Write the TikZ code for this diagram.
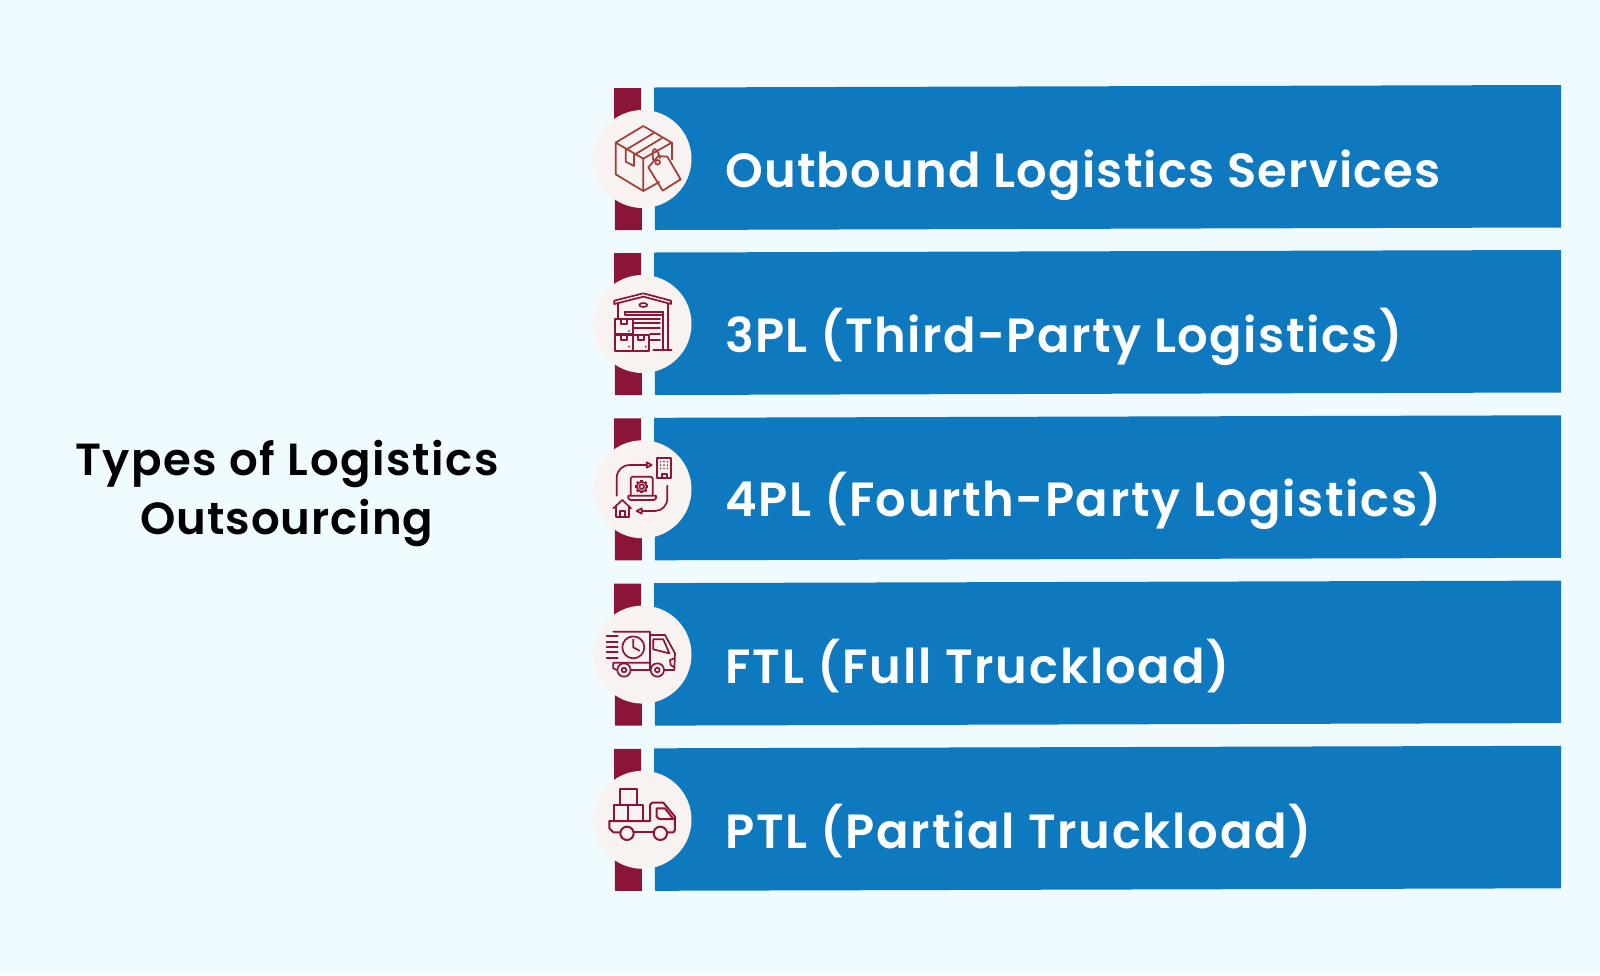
\documentclass[tikz,border=0pt]{standalone}
\usepackage{fontspec}
\setmainfont{Poppins}
\newfontfamily\labfont{Poppins SemiBold}[LetterSpace=2.5]
\newfontfamily\titfont{Poppins SemiBold}[LetterSpace=2]
\definecolor{bgc}{HTML}{F0FBFF}
\definecolor{bluec}{HTML}{0F79BF}
\definecolor{marc}{HTML}{8A1538}
\definecolor{circc}{HTML}{F8F2F1}
\definecolor{rust}{HTML}{A23A36}
\tikzset{
 x=1pt,y=-1pt,
 barblue/.style={fill=bluec,draw=none},
 barmar/.style={fill=marc,draw=none},
 disc/.style={circle,fill=circc,draw=none,minimum size=98pt,inner sep=0pt},
 label/.style={anchor=base west,text=white,font=\labfont\fontsize{48}{48}\selectfont,inner sep=0pt},
 title/.style={anchor=base,text=black,font=\titfont\fontsize{45}{45}\selectfont,inner sep=0pt},
 icon/.style={x=.3333pt,y=-.3333pt,draw=marc,line width=1.7pt,line join=round,line cap=round},
}
\newcommand{\rowbars}[2]{% y offset, name
 \fill[barmar] (614,88+#1) -- (641,88+#1) -- (642,230+#1) -- (615,230+#1) -- cycle;
 \fill[barblue] (654,87.5+#1) -- (1561,85+#1) -- (1561,227.5+#1) -- (655,230+#1) -- cycle;
 \node[disc] (#2) at (642.5,159+#1) {};
}
\begin{document}
\begin{tikzpicture}
\useasboundingbox (0,0) rectangle (1600,975);
\fill[bgc] (0,0) rectangle (1600,975);
\rowbars{0}{c1}
\rowbars{165}{c2}
\rowbars{330.3}{c3}
\rowbars{495.6}{c4}
\rowbars{660.8}{c5}
\node[title] (t1) at (287,475) {\addfontfeature{LetterSpace=3.5}Types of Logistics};
\node[title] (t2) at (287,534) {Outsourcing};
\node[label] (l1) at (725,187) {Outbound Logistics Services};
\node[label] (l2) at (725,352) {\addfontfeature{LetterSpace=3}3PL (Third-Party Logistics)};
\node[label] (l3) at (725,516) {\addfontfeature{LetterSpace=3.2}4PL (Fourth-Party Logistics)};
\node[label] (l4) at (725,683) {\addfontfeature{LetterSpace=3.85}FTL (Full Truckload)};
\node[label] (l5) at (725,848) {\addfontfeature{LetterSpace=3.6}PTL (Partial Truckload)};
% icon 1
\begin{scope}[shift={(580,80)},icon,draw=rust]
\draw (107,188) -- (190,138) -- (275,188) -- (190,236) -- cycle;
\draw (107,188) -- (107,283) -- (190,333) -- (190,236);
\draw (275,188) -- (275,238);
\draw (190,333) -- (238,306);
\draw (137,210) -- (220,160);
\draw (162,225) -- (245,175);
\draw (137,210) -- (137,245) -- (162,258) -- (162,225);
\draw (205,262) -- (235,228) -- (262,230) -- (302,298) -- (248,332) -- cycle;
\draw (233,247) circle[radius=7];
\draw (220,240) .. controls (212,205) and (228,190) .. (240,235);
\end{scope}
% icon 2
\begin{scope}[shift={(580,260)},icon]
\draw (103,122) -- (190,100) -- (273,122) -- (273,132) -- (190,110) -- (103,132) -- cycle;
\draw (113,132) -- (113,175);
\draw (263,132) -- (263,270);
\draw (248,155) -- (248,270);
\draw (220,270) -- (275,270);
\draw (135,155) -- (248,155) (135,165) -- (248,165) (135,155) -- (135,165);
\draw (160,178) -- (240,178) (160,190) -- (240,190) (160,205) -- (240,205) (210,222) -- (240,222) (210,240) -- (240,240);
\draw (190,135) ellipse[x radius=12,y radius=6];
\draw (105,178) rectangle (158,222);
\draw (105,225) rectangle (158,272);
\draw (158,225) rectangle (208,272);
\draw (122,178) -- (122,193) -- (140,193) -- (140,178);
\draw (122,225) -- (122,240) -- (140,240) -- (140,225);
\draw (175,225) -- (175,240) -- (192,240) -- (192,225);
\fill[marc] (147,213) circle[radius=3] (147,260) circle[radius=3] (197,260) circle[radius=3];
\end{scope}
% icon 3
\begin{scope}[shift={(580,425)},icon]
\draw (110,212) -- (110,160) .. controls (110,135) and (128,120) .. (150,120) -- (200,120);
\draw (200,112) -- (215,120) -- (200,128) -- cycle;
\draw (232,100) rectangle (272,160);
\draw (245,160) -- (245,147) -- (260,147) -- (260,160);
\foreach \a in {242,252,262} \foreach \b in {110,120,130} \fill[marc] (\a,\b) circle[radius=2.5];
\draw (262,182) -- (262,220) .. controls (262,242) and (245,258) .. (225,258) -- (185,258);
\draw (185,250) -- (170,258) -- (185,266) -- cycle;
\draw (152,210) -- (152,160) -- (157,155) -- (213,155) -- (218,160) -- (218,210);
\draw (145,212) -- (228,212) -- (228,220) -- (222,225) -- (151,225) -- (145,220) -- cycle;
\draw (185,185) circle[radius=7];
\draw (185,185) circle[radius=15];
\foreach \a in {0,45,...,315} \draw[line width=2.4pt,line cap=butt] (185,185) ++(\a:15) -- ++(\a:5);
\draw (100,250) -- (127,225) -- (153,250);
\draw (108,245) -- (108,275) -- (147,275) -- (147,245);
\draw (120,275) -- (120,258) -- (135,258) -- (135,275);
\end{scope}
% icon 4
\begin{scope}[shift={(580,590)},icon]
\draw (100,125) -- (210,125) -- (210,218) -- (100,218) -- (100,235) -- (110,240);
\draw (152,240) -- (210,240);
\draw (210,218) -- (210,240);
\draw (210,135) -- (255,135) -- (285,190) -- (283,240) -- (253,240);
\draw (220,148) -- (250,148) -- (268,190) -- (220,178) -- cycle;
\draw (160,172) circle[radius=33];
\draw (160,148) -- (160,172) -- (178,182);
\draw (80,137) -- (113,137) (80,155) -- (113,155) (80,170) -- (113,170) (80,187) -- (113,187) (80,205) -- (113,205);
\draw (132,240) circle[radius=20] (132,240) circle[radius=7];
\draw (232,240) circle[radius=20] (232,240) circle[radius=7];
\draw (283,205) -- (270,210) -- (272,225) -- (283,232);
\end{scope}
% icon 5
\begin{scope}[shift={(580,750)},icon,line width=2pt]
\draw (120,117) rectangle (170,165);
\draw (102,165) rectangle (145,213);
\draw (145,165) rectangle (190,213);
\draw (88,213) -- (210,213) -- (210,165) -- (216,158) -- (250,158) -- (285,200) -- (285,240) -- (280,247) -- (262,247);
\draw (88,213) -- (88,235) -- (100,247) -- (120,247);
\draw (162,247) -- (220,247);
\draw (141,250) circle[radius=20];
\draw (241,250) circle[radius=20];
\draw (230,175) -- (255,175) -- (280,207) -- (238,207) -- (230,200) -- cycle;
\end{scope}
\end{tikzpicture}
\end{document}
